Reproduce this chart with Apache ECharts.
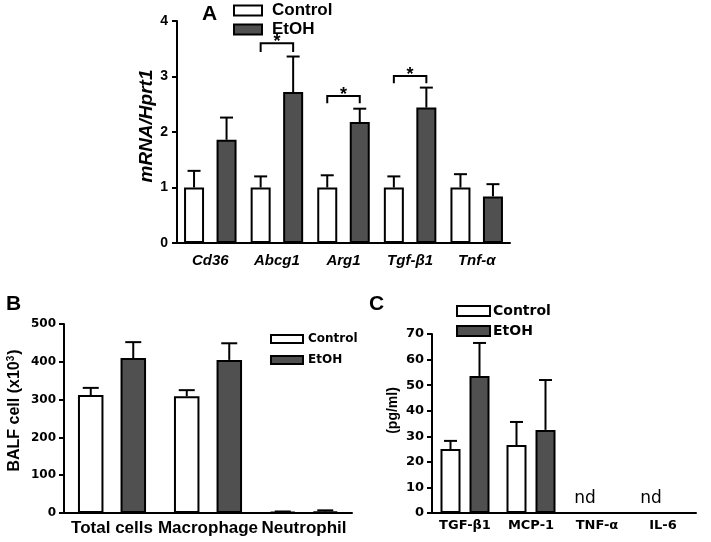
<!DOCTYPE html>
<html><head><meta charset="utf-8">
<script src="https://cdn.jsdelivr.net/npm/echarts@6/dist/echarts.min.js"></script>
<style>html,body{margin:0;padding:0;background:#fff}#c{width:711px;height:542px}</style>
</head><body><div id="c"></div>
<script>
// ---------- Panel A ----------
const catsA = ['Cd36', 'Abcg1', 'Arg1', 'Tgf-β1', 'Tnf-α'];
const ctrlA = [1.0, 1.0, 1.0, 1.0, 1.0];
const ctrlErrA = [1.30, 1.20, 1.22, 1.20, 1.24];
const etohA = [1.86, 2.72, 2.18, 2.44, 0.84];
const etohErrA = [2.26, 3.36, 2.42, 2.80, 1.06];
const sigA = [[1, 3.44, 3.60], [2, 2.52, 2.65], [3, 2.88, 3.01]]; // [category, bracket leg end, bracket top]
const ticksA = [0, 1, 2, 3, 4];

// ---------- Panel B ----------
const catsB = ['Total cells', 'Macrophage', 'Neutrophil'];
const ctrlB = [312, 309, 3];
const ctrlErrB = [331, 325, 4];
const etohB = [410, 405, 4];
const etohErrB = [452, 449, 7];
const ticksB = [0, 100, 200, 300, 400, 500];

// ---------- Panel C ----------
const catsC = ['TGF-β1', 'MCP-1', 'TNF-α', 'IL-6'];
const ctrlC = [25.0, 26.6, null, null];
const ctrlErrC = [28.2, 35.6, null, null];
const etohC = [53.6, 32.5, null, null];
const etohErrC = [66.5, 52.0, null, null];
const ndC = [2, 3];
const ticksC = [0, 10, 20, 30, 40, 50, 60, 70];

const AR = '"Liberation Sans", Arial, sans-serif';
const DV = '"DejaVu Sans", sans-serif';
const DARK = '#505050';

const chart = echarts.init(document.getElementById('c'));

function errSeries(xi, vals, errs, offset, capW) {
  const data = [];
  vals.forEach((v, i) => { if (v != null && errs[i] != null) data.push([i, v, errs[i]]); });
  return {
    type: 'custom', xAxisIndex: xi, yAxisIndex: xi, data: data, z: 1, silent: true,
    renderItem: function (params, api) {
      const i = api.value(0);
      const a = api.coord([i, api.value(1)]);
      const b = api.coord([i, api.value(2)]);
      const x = a[0] + offset;
      return { type: 'group', children: [
        { type: 'line', shape: { x1: x, y1: a[1], x2: x, y2: b[1] }, style: { stroke: '#000', lineWidth: 2 } },
        { type: 'line', shape: { x1: x - capW / 2, y1: b[1], x2: x + capW / 2, y2: b[1] }, style: { stroke: '#000', lineWidth: 2 } }
      ] };
    }
  };
}

function barSeries(name, xi, vals, color, bw, gap) {
  return {
    type: 'bar', name: name, xAxisIndex: xi, yAxisIndex: xi, data: vals,
    barWidth: bw, barGap: gap, z: 2,
    itemStyle: { color: color, borderColor: '#000', borderWidth: 2 }
  };
}

function yAxisCfg(gi, min, max, interval, font, fs, margin, name, nameGap, nameStyle) {
  return {
    type: 'value', gridIndex: gi, min: min, max: max, interval: interval,
    splitLine: { show: false },
    axisLine: { show: true, lineStyle: { color: '#000', width: 2 } },
    axisTick: { show: true, length: 5, lineStyle: { color: '#000', width: 2 } },
    axisLabel: { color: '#000', fontFamily: font, fontWeight: 'bold', fontSize: fs, margin: margin },
    name: name, nameLocation: 'middle', nameRotate: 90, nameGap: nameGap,
    nameTextStyle: nameStyle
  };
}

function xAxisCfg(gi, cats, labelStyle) {
  return {
    type: 'category', gridIndex: gi, data: cats,
    axisLine: { show: true, lineStyle: { color: '#000', width: 2 } },
    axisTick: { show: false },
    axisLabel: Object.assign({ color: '#000', interval: 0 }, labelStyle)
  };
}

const offA = 16.25, offB = 21.25, offC = 14.5;
const legendItems = [{ name: 'Control', icon: 'rect' }, { name: 'EtOH', icon: 'rect' }];

const option = {
  animation: false,
  backgroundColor: '#fff',
  title: [
    { text: 'A', left: 197, top: -1, textStyle: { fontFamily: AR, fontWeight: 'bold', fontSize: 21, color: '#000' } },
    { text: 'B', left: 1, top: 289, textStyle: { fontFamily: AR, fontWeight: 'bold', fontSize: 21, color: '#000' } },
    { text: 'C', left: 364, top: 289, textStyle: { fontFamily: AR, fontWeight: 'bold', fontSize: 21, color: '#000' } }
  ],
  legend: [
    { data: legendItems, orient: 'vertical', left: 228, top: -3, itemWidth: 28, itemHeight: 10, itemGap: 2,
      itemStyle: { borderColor: '#000', borderWidth: 2 },
      textStyle: { fontFamily: AR, fontWeight: 'bold', fontSize: 17, color: '#000', padding: [0, 0, 0, 5] } },
    { data: legendItems, orient: 'vertical', left: 265, top: 328, itemWidth: 32, itemHeight: 8, itemGap: 9,
      itemStyle: { borderColor: '#000', borderWidth: 2 },
      textStyle: { fontFamily: DV, fontWeight: 'bold', fontSize: 12, color: '#000' } },
    { data: legendItems, orient: 'vertical', left: 451, top: 299, itemWidth: 33, itemHeight: 10, itemGap: 6,
      itemStyle: { borderColor: '#000', borderWidth: 2 },
      textStyle: { fontFamily: DV, fontWeight: 'bold', fontSize: 14, color: '#000', padding: [0, 0, 0, -2] } }
  ],
  grid: [
    { left: 177, top: 21, width: 333, height: 222 },
    { left: 64, top: 324, width: 288, height: 189 },
    { left: 432, top: 334, width: 264, height: 179 }
  ],
  xAxis: [
    xAxisCfg(0, catsA, { fontFamily: AR, fontWeight: 'bold', fontStyle: 'italic', fontSize: 15, margin: 10 }),
    xAxisCfg(1, catsB, { fontFamily: AR, fontWeight: 'bold', fontSize: 17, margin: 7 }),
    xAxisCfg(2, catsC, { fontFamily: DV, fontWeight: 'bold', fontSize: 13, margin: 6 })
  ],
  yAxis: [
    yAxisCfg(0, ticksA[0], ticksA[ticksA.length - 1], 1, AR, 14, 9, 'mRNA/Hprt1', 17,
      { fontFamily: AR, fontWeight: 'bold', fontStyle: 'italic', fontSize: 19, color: '#000', padding: [0, 0, 0, 12] }),
    yAxisCfg(1, ticksB[0], ticksB[ticksB.length - 1], 100, DV, 12, 8, 'BALF cell (x10{sup|3})', 40,
      { fontFamily: AR, fontWeight: 'bold', fontSize: 16, color: '#000', padding: [0, 0, 0, 16],
        rich: { sup: { fontFamily: AR, fontWeight: 'bold', fontSize: 10, verticalAlign: 'top', padding: [0, 1, 8, 0] } } }),
    yAxisCfg(2, ticksC[0], ticksC[ticksC.length - 1], 10, DV, 13, 8, '(pg/ml)', 32,
      { fontFamily: AR, fontWeight: 'bold', fontSize: 14, color: '#000', padding: [0, 0, 0, 26] })
  ],
  series: [
    barSeries('Control', 0, ctrlA, '#fff', 20, '62.5%'),
    barSeries('EtOH', 0, etohA, DARK, 20, '62.5%'),
    errSeries(0, ctrlA, ctrlErrA, -offA, 13),
    errSeries(0, etohA, etohErrA, offA, 13),
    {
      type: 'custom', xAxisIndex: 0, yAxisIndex: 0, data: sigA, silent: true, z: 3,
      renderItem: function (params, api) {
        const i = api.value(0);
        const leg = api.coord([i, api.value(1)]);
        const top = api.coord([i, api.value(2)]);
        const x1 = leg[0] - offA, x2 = leg[0] + offA;
        return { type: 'group', children: [
          { type: 'polyline', shape: { points: [[x1, leg[1]], [x1, top[1]], [x2, top[1]], [x2, leg[1]]] },
            style: { stroke: '#000', lineWidth: 2, fill: null } },
          { type: 'text', style: { text: '*', x: (x1 + x2) / 2, y: top[1] - 1, align: 'center', verticalAlign: 'middle',
            font: 'bold 18px ' + AR, fill: '#000' } }
        ] };
      }
    },
    barSeries('Control', 1, ctrlB, '#fff', 25.5, '67%'),
    barSeries('EtOH', 1, etohB, DARK, 25.5, '67%'),
    errSeries(1, ctrlB, ctrlErrB, -offB, 16),
    errSeries(1, etohB, etohErrB, offB, 16),
    barSeries('Control', 2, ctrlC, '#fff', 20, '45%'),
    barSeries('EtOH', 2, etohC, DARK, 20, '45%'),
    errSeries(2, ctrlC, ctrlErrC, -offC, 13),
    errSeries(2, etohC, etohErrC, offC, 13),
    {
      type: 'custom', xAxisIndex: 2, yAxisIndex: 2, data: ndC.map(i => [i, 0]), silent: true,
      renderItem: function (params, api) {
        const p = api.coord([api.value(0), api.value(1)]);
        return { type: 'text', style: { text: 'nd', x: p[0] - 12, y: p[1] - 6, align: 'center', verticalAlign: 'bottom',
          font: '17px ' + DV, fill: '#000' } };
      }
    }
  ]
};
chart.setOption(option);
</script>
</body></html>
